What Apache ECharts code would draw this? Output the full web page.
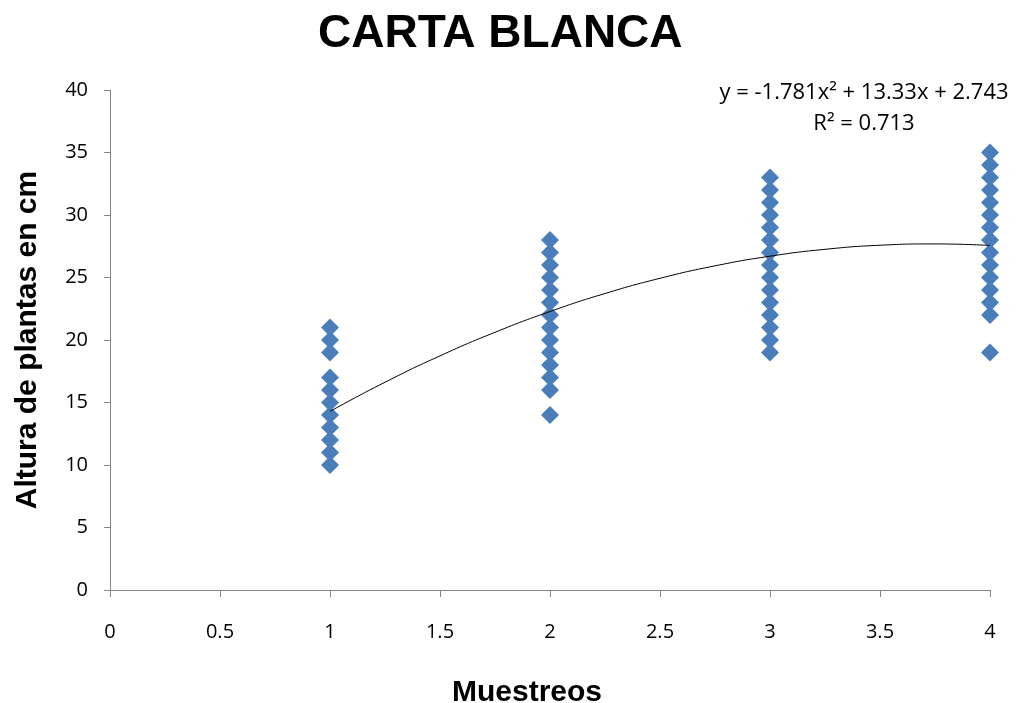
<!DOCTYPE html>
<html>
<head>
    <meta charset="UTF-8">
    <title>CARTA BLANCA</title>
    <script src="https://cdn.jsdelivr.net/npm/echarts@6/dist/echarts.min.js"></script>
    <style>
        html, body { margin: 0; padding: 0; background: #fff; }
        #main { width: 1020px; height: 703px; }
    </style>
</head>
<body>
<div id="main"></div>
<script>
    var muestreo1 = [21, 20, 19, 17, 16, 15, 14, 13, 12, 11, 10];
    var muestreo2 = [28, 27, 26, 25, 24, 23, 22, 21, 20, 19, 18, 17, 16, 14];
    var muestreo3 = [33, 32, 31, 30, 29, 28, 27, 26, 25, 24, 23, 22, 21, 20, 19];
    var muestreo4 = [35, 34, 33, 32, 31, 30, 29, 28, 27, 26, 25, 24, 23, 22, 19];
    // coeficientes de la linea de tendencia polinomica mostrada
    var trendCoef = [-1.781, 13.33, 2.743];
    var trendX = [1, 1.25, 1.5, 1.75, 2, 2.25, 2.5, 2.75, 3, 3.25, 3.5, 3.75, 4];

    var points = [];
    [muestreo1, muestreo2, muestreo3, muestreo4].forEach(function (arr, i) {
        arr.forEach(function (v) { points.push([i + 1, v]); });
    });
    var trend = trendX.map(function (x) {
        return [x, trendCoef[0] * x * x + trendCoef[1] * x + trendCoef[2]];
    });

    var axisGray = '#868686';
    var chart = echarts.init(document.getElementById('main'));
    chart.setOption({
        animation: false,
        title: {
            text: 'CARTA BLANCA',
            left: 313,
            top: 6,
            textStyle: { fontFamily: 'Liberation Sans', fontSize: 46, fontWeight: 'bold', color: '#000' }
        },
        grid: { left: 110, right: 30, top: 90, bottom: 113, outerBoundsMode: 'none', containLabel: false },
        xAxis: {
            type: 'value', min: 0, max: 4, interval: 0.5,
            name: 'Muestreos', nameLocation: 'middle', nameGap: 88,
            nameTextStyle: { fontFamily: 'Liberation Sans', fontSize: 30, fontWeight: 'bold', color: '#000', padding: [0, 46, 0, 0] },
            axisLine: { show: true, lineStyle: { color: axisGray } },
            axisTick: { show: true, length: 7, lineStyle: { color: axisGray } },
            splitLine: { show: false },
            axisLabel: { margin: 32, fontFamily: 'Open Sans', fontSize: 20, color: '#000' }
        },
        yAxis: {
            type: 'value', min: 0, max: 40, interval: 5,
            name: 'Altura de plantas en cm', nameLocation: 'middle', nameGap: 67,
            nameTextStyle: { fontFamily: 'Liberation Sans', fontSize: 30, fontWeight: 'bold', color: '#000' },
            axisLine: { show: true, lineStyle: { color: axisGray } },
            axisTick: { show: true, length: 6, lineStyle: { color: axisGray } },
            splitLine: { show: false },
            axisLabel: { margin: 22, fontFamily: 'Open Sans', fontSize: 20, color: '#000' }
        },
        graphic: [{
            type: 'text', x: 864, y: 93,
            style: {
                text: 'y = -1.781x² + 13.33x + 2.743',
                font: '22px "Open Sans"', fill: '#000', align: 'center', verticalAlign: 'middle'
            }
        }, {
            type: 'text', x: 864, y: 124,
            style: {
                text: 'R² = 0.713',
                font: '22px "Open Sans"', fill: '#000', align: 'center', verticalAlign: 'middle'
            }
        }],
        series: [{
            type: 'scatter',
            data: points,
            symbol: 'diamond',
            symbolSize: [18, 18],
            itemStyle: { color: '#4a7ebb', opacity: 1 },
            z: 2
        }, {
            type: 'line',
            data: trend,
            smooth: true,
            showSymbol: false,
            lineStyle: { color: '#000', width: 1 },
            z: 3
        }]
    });
</script>
</body>
</html>
